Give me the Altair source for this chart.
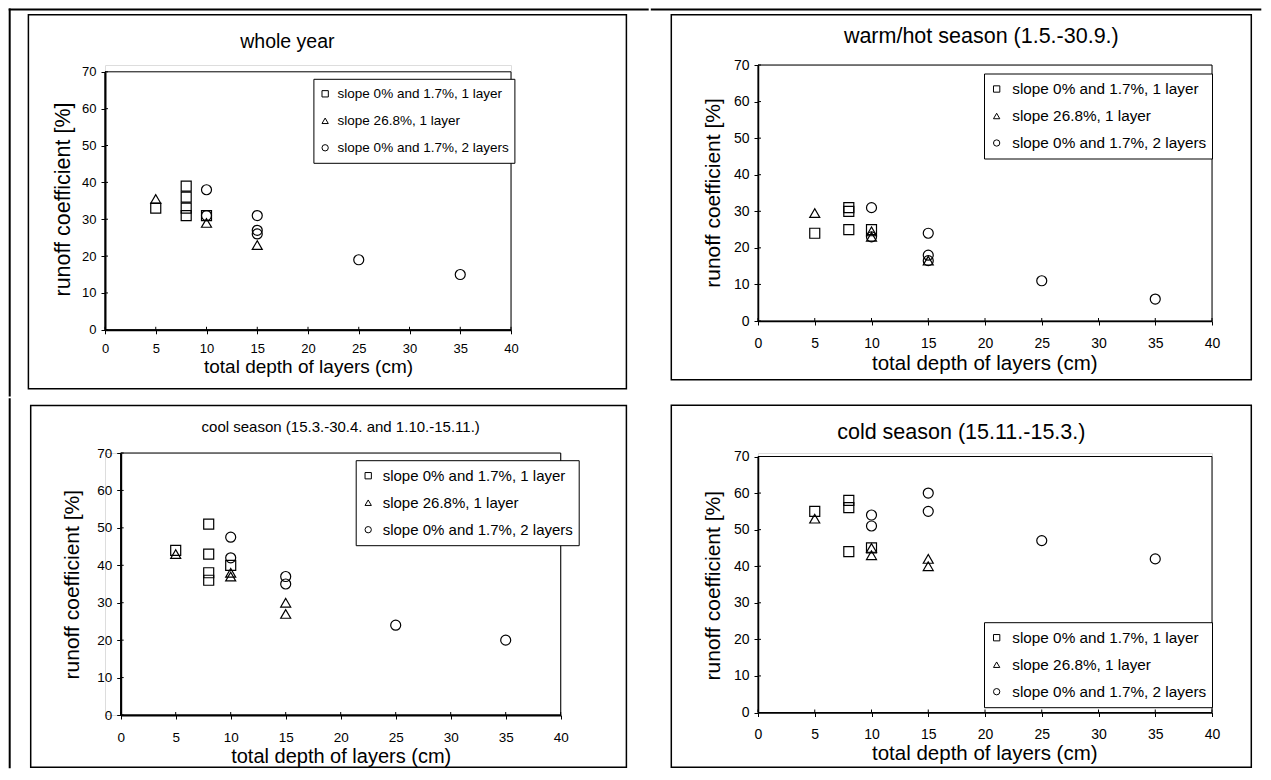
import altair as alt
import pandas as pd

FONT = "Liberation Sans"

SERIES = ["slope 0% and 1.7%, 1 layer", "slope 26.8%, 1 layer", "slope 0% and 1.7%, 2 layers"]
SHAPES = ["square", "triangle-up", "circle"]
X_TICKS = [0, 5, 10, 15, 20, 25, 30, 35, 40]
Y_TICKS = [0, 10, 20, 30, 40, 50, 60, 70]
X_DOMAIN = [0, 40]
Y_DOMAIN = [0, 70]
X_TITLE = "total depth of layers (cm)"
Y_TITLE = "runoff coefficient [%]"
PANEL_TITLES = [
    "whole year",
    "warm/hot season (1.5.-30.9.)",
    "cool season (15.3.-30.4. and 1.10.-15.11.)",
    "cold season (15.11.-15.3.)",
]

# whole year
year_sq_x = [5, 8, 8, 8, 8, 10]
year_sq_y = [33, 39, 36, 33, 31, 31]
year_tr_x = [5, 10, 15]
year_tr_y = [35.5, 29, 23]
year_ci_x = [10, 10, 15, 15, 15, 25, 35]
year_ci_y = [38, 31, 31, 27, 26, 19, 15]

# warm/hot season
warm_sq_x = [5, 8, 8, 8, 10]
warm_sq_y = [24, 31, 30, 25, 25]
warm_tr_x = [5, 10, 10, 15]
warm_tr_y = [29.5, 24.5, 23, 16.5]
warm_ci_x = [10, 10, 15, 15, 15, 25, 35]
warm_ci_y = [31, 23, 24, 18, 16.5, 11, 6]

# cool season
cool_sq_x = [5, 8, 8, 8, 8, 10]
cool_sq_y = [44, 51, 43, 38, 36, 40]
cool_tr_x = [5, 10, 10, 15, 15]
cool_tr_y = [43, 38, 37, 30, 27]
cool_ci_x = [10, 10, 15, 15, 25, 35]
cool_ci_y = [47.5, 42, 37, 35, 24, 20]

# cold season
cold_sq_x = [5, 8, 8, 8, 10]
cold_sq_y = [55, 58, 56, 44, 45]
cold_tr_x = [5, 10, 10, 15, 15]
cold_tr_y = [53, 45, 43, 42, 40]
cold_ci_x = [10, 10, 15, 15, 25, 35]
cold_ci_y = [54, 51, 60, 55, 47, 42]


def points_df(sq_x, sq_y, tr_x, tr_y, ci_x, ci_y):
    rows = []
    for s, xs, ys in zip(SERIES, [sq_x, tr_x, ci_x], [sq_y, tr_y, ci_y]):
        for a, b in zip(xs, ys):
            rows.append({"depth": a, "runoff": b, "series": s})
    return pd.DataFrame(rows)


def one_row():
    return alt.Data(values=[{"k": 0}])


def rect(x1, x2, y1, y2, **kw):
    return alt.Chart(one_row()).mark_rect(**kw).encode(
        x=alt.value(x1), x2=alt.value(x2), y=alt.value(y1), y2=alt.value(y2)
    )


def text(t, x, y, size):
    return alt.Chart(one_row()).mark_text(
        text=t, font=FONT, fontSize=size, color="black", align="center", baseline="middle"
    ).encode(x=alt.value(x), y=alt.value(y))


def panel(df, title, g):
    W, H = g["W"], g["H"]
    xo, yo = g.get("xo", 0), g.get("yo", 0)
    xaxis = alt.Axis(
        values=X_TICKS, grid=False, domainColor="black", domainWidth=g["dw"],
        tickColor="black", tickSize=4, tickWidth=1,
        labelFont=FONT, labelFontSize=g["lf"], labelColor="black",
        labelPadding=g["xlp"], labelFlush=False, labelOverlap=False,
        title=X_TITLE, titleFont=FONT, titleFontSize=g["xtf"], titleFontWeight="normal",
        titleColor="black", titleX=g["xt"][0], titleY=g["xt"][1],
        titleAlign="center", titleBaseline="middle",
    )
    yaxis_kw = dict(
        values=Y_TICKS, grid=False, domainColor="black", domainWidth=g["dw"],
        tickColor="black", tickSize=4, tickWidth=1,
        labelFont=FONT, labelFontSize=g["lf"], labelColor="black",
        labelPadding=5, labelFlush=False, labelOverlap=False,
        title=Y_TITLE, titleFont=FONT, titleFontSize=g["ytf"], titleFontWeight="normal",
        titleColor="black", titleX=g["yt"][0], titleY=g["yt"][1], titleAngle=270,
        titleAlign="center", titleBaseline="middle",
    )
    if xo:
        yaxis_kw["offset"] = -xo
    yaxis = alt.Axis(**yaxis_kw)
    xscale = alt.Scale(domain=X_DOMAIN, nice=False, zero=False, range=[xo, xo + W])
    yscale = alt.Scale(domain=Y_DOMAIN, nice=False, zero=False, range=[yo + H, yo])
    X = lambda: alt.X("depth:Q", scale=xscale, axis=xaxis)
    Y = lambda: alt.Y("runoff:Q", scale=yscale, axis=yaxis)
    legend = alt.Legend(
        orient="none", legendX=g["lg"][0], legendY=g["lg"][1], title=None,
        strokeColor="black", fillColor="white", padding=5,
        symbolSize=40, symbolStrokeWidth=1, symbolStrokeColor="black",
        labelFont=FONT, labelFontSize=g["lgf"], labelColor="black", labelLimit=400,
        clipHeight=g["lgh"], rowPadding=27 - g["lgh"], labelOffset=g["lgo"],
    )
    border_df = pd.DataFrame({"depth": [X_DOMAIN[0]], "depth_end": [X_DOMAIN[1]],
                              "runoff": [Y_DOMAIN[0]], "runoff_end": [Y_DOMAIN[1]]})
    border = alt.Chart(border_df).mark_rect(fill="white", fillOpacity=0, stroke="black",
                                            strokeWidth=1).encode(
        x=X(), x2="depth_end:Q", y=Y(), y2="runoff_end:Q",
    )
    # inner halves of the crossing tick marks
    xin = alt.Chart(pd.DataFrame({"depth": X_TICKS})).mark_rule(color="black", strokeWidth=1).encode(
        x=X(), y=alt.value(yo + H), y2=alt.value(yo + H - 3)
    )
    yin = alt.Chart(pd.DataFrame({"runoff": Y_TICKS})).mark_rule(color="black", strokeWidth=1).encode(
        y=Y(), x=alt.value(xo), x2=alt.value(xo + 3)
    )
    pts = alt.Chart(df).mark_point(
        filled=False, size=100, strokeWidth=1.2, color="black", opacity=1
    ).encode(
        x=X(), y=Y(),
        shape=alt.Shape("series:N", scale=alt.Scale(domain=SERIES, range=SHAPES), legend=legend),
    )
    layers = [rect(*g["cell"], opacity=0),
              rect(*g["frame"], fill="white", fillOpacity=0, stroke="black", strokeWidth=1.5),
              border, xin, yin]
    for r in g.get("lines", []):
        layers.append(rect(*r, fill="black"))
    layers.append(pts)
    layers.append(text(title, g["title"][0], g["title"][1], g["ttf"]))
    return alt.layer(*layers).properties(width=xo + W, height=yo + H)


# positions are relative to each panel's view origin
G1 = dict(W=406, H=258, yo=6.8, dw=2, lf=13, xlp=9, xtf=19, ytf=21.5, ttf=19.5,
          xt=(203, 36.5), yt=(-42, 134),
          lg=(208.4, 13.8), lgf=13.5, lgh=20, lgo=5.7,
          cell=(-96.3, 543.7, -56.5, 331.5), frame=(-76.6, 521.4, -50.2, 323.8),
          lines=[(-96.3, 543.7, -56.5, -54.5), (-96.3, -94.3, -56.5, 331.5)],
          title=(182.4, -22.8))
G2 = dict(W=454, H=256, dw=1.5, lf=14, xlp=11.5, xtf=20.5, ytf=21, ttf=21.5,
          xt=(226.3, 42), yt=(-45, 127.5),
          lg=(226, 8.5), lgf=15.3, lgh=21, lgo=8,
          cell=(-107.2, 503.3, -56.5, 331.5), frame=(-86.7, 493.3, -50.2, 314.8),
          lines=[(-107.2, 503.3, -56.5, -54.5)],
          title=(223.3, -28.5))
G3 = dict(W=440, H=262, xo=15.7, dw=2, lf=13.5, xlp=11, xtf=20, ytf=21, ttf=15,
          xt=(235.7, 41), yt=(-48, 131.2),
          lg=(250.7, 7.2), lgf=15, lgh=21, lgo=7,
          cell=(-96.3, 543.7, -54.8, 315.2), frame=(-74.3, 521.4, -47.5, 314.2),
          lines=[(-96.3, -94.3, -54.8, 315.2)],
          title=(235.7, -25.8))
G4 = dict(W=454, H=256, yo=3.5, dw=1.5, lf=14, xlp=11, xtf=20.5, ytf=21, ttf=21.5,
          xt=(226.3, 40.5), yt=(-45, 132.2),
          lg=(226, 169.2), lgf=15.3, lgh=21, lgo=8,
          cell=(-107.2, 503.3, -54.8, 315.2), frame=(-86.7, 493.3, -47.8, 314.2),
          title=(203.3, -20.3))

p1 = panel(points_df(year_sq_x, year_sq_y, year_tr_x, year_tr_y, year_ci_x, year_ci_y), PANEL_TITLES[0], G1)
p2 = panel(points_df(warm_sq_x, warm_sq_y, warm_tr_x, warm_tr_y, warm_ci_x, warm_ci_y), PANEL_TITLES[1], G2)
p3 = panel(points_df(cool_sq_x, cool_sq_y, cool_tr_x, cool_tr_y, cool_ci_x, cool_ci_y), PANEL_TITLES[2], G3)
p4 = panel(points_df(cold_sq_x, cold_sq_y, cold_tr_x, cold_tr_y, cold_ci_x, cold_ci_y), PANEL_TITLES[3], G4)

chart = alt.concat(p1, p2, p3, p4, columns=2, spacing=0).resolve_scale(
    x="independent", y="independent", shape="independent"
).resolve_legend(shape="independent").properties(padding=0).configure_view(
    stroke="transparent"
).configure(background="white")

chart.save("out.html", embed_options={"renderer": "svg", "actions": False})
